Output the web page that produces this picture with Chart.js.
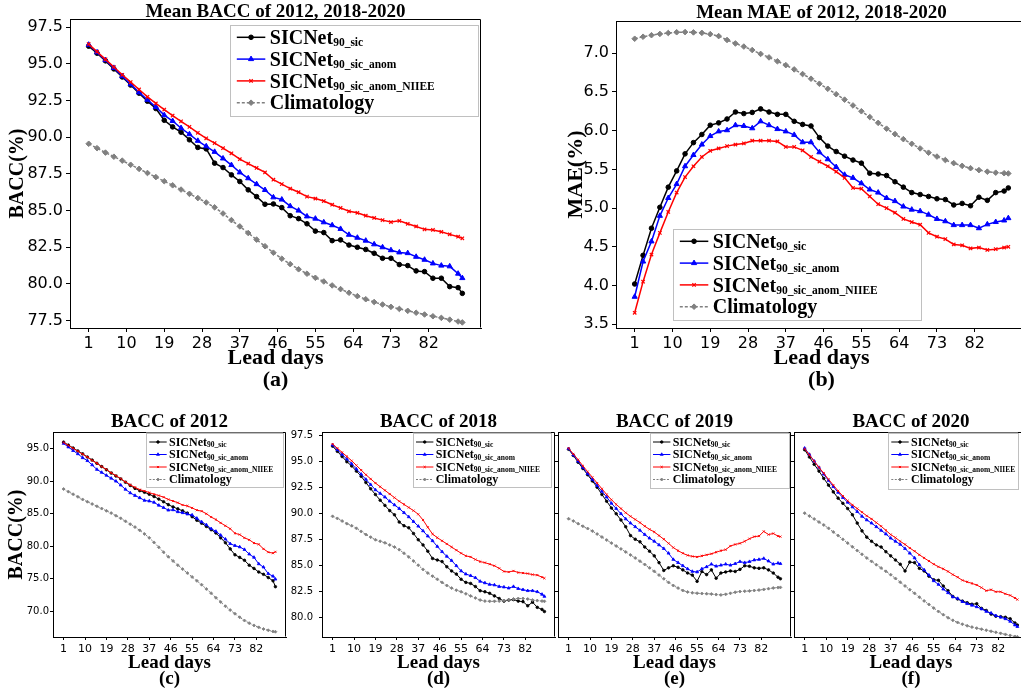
<!DOCTYPE html>
<html><head><meta charset="utf-8">
<script src="https://cdn.jsdelivr.net/npm/chart.js@4.4.1/dist/chart.umd.min.js"></script>
<style>
html,body{margin:0;padding:0;background:#fff;width:1021px;height:696px;overflow:hidden;position:relative}
canvas{position:absolute;display:block}
</style></head><body>
<canvas id="ca"></canvas><canvas id="cb"></canvas><canvas id="cc"></canvas>
<canvas id="cd"></canvas><canvas id="ce"></canvas><canvas id="cf"></canvas>
<script>
// ---------------- data ----------------
const days=[1,3,5,7,9,11,13,15,17,19,21,23,25,27,29,31,33,35,37,39,41,43,45,47,49,51,53,55,57,59,61,63,65,67,69,71,73,75,77,79,81,83,85,87,89,90];
const xTickLabels=[1,10,19,28,37,46,55,64,73,82];
const seriesNames=['SICNet','SICNet','SICNet','Climatology'];
const seriesSubs=['90_sic','90_sic_anom','90_sic_anom_NIIEE',''];

// (a) Mean BACC
const a_sic=[96.2,95.72,95.2,94.65,94.1,93.55,93.0,92.45,91.95,91.15,90.7,90.34,89.82,89.3,89.2,88.23,87.93,87.43,86.98,86.41,85.95,85.43,85.45,85.2,84.65,84.45,84.1,83.6,83.5,82.95,83.0,82.65,82.5,82.35,82.09,81.75,81.75,81.32,81.25,80.89,80.84,80.39,80.39,79.82,79.75,79.36];
const a_anom=[96.3,95.78,95.25,94.72,94.15,93.6,93.05,92.55,92.05,91.5,91.1,90.62,90.2,89.75,89.38,89.0,88.55,88.1,87.6,87.2,86.8,86.4,85.9,85.75,85.3,85.0,84.6,84.45,84.2,84.0,83.75,83.35,83.15,82.95,82.7,82.5,82.3,82.15,82.1,81.85,81.65,81.4,81.25,81.2,80.7,80.4];
const a_niiee=[96.34,95.82,95.3,94.78,94.25,93.75,93.25,92.75,92.3,91.88,91.47,91.08,90.7,90.3,89.92,89.6,89.25,88.9,88.5,88.2,87.9,87.6,87.1,86.8,86.5,86.25,85.95,85.82,85.65,85.4,85.18,84.95,84.85,84.65,84.5,84.35,84.22,84.3,84.1,83.92,83.72,83.68,83.55,83.38,83.22,83.11];
const a_clim=[89.55,89.25,88.95,88.67,88.4,88.12,87.84,87.56,87.28,87.0,86.72,86.43,86.14,85.85,85.55,85.22,84.8,84.35,83.92,83.47,83.02,82.57,82.13,81.72,81.35,81.0,80.7,80.42,80.17,79.9,79.65,79.4,79.17,78.96,78.77,78.6,78.44,78.3,78.17,78.04,77.92,77.8,77.69,77.57,77.44,77.38];

// (b) Mean MAE
const b_sic=[4.02,4.39,4.74,5.01,5.27,5.48,5.70,5.845,5.95,6.07,6.10,6.15,6.24,6.22,6.235,6.28,6.24,6.21,6.21,6.12,6.08,6.06,5.91,5.80,5.73,5.67,5.62,5.58,5.45,5.44,5.42,5.34,5.27,5.20,5.175,5.15,5.12,5.11,5.04,5.06,5.03,5.14,5.10,5.20,5.22,5.26];
const b_anom=[3.855,4.31,4.57,4.90,5.13,5.31,5.54,5.685,5.82,5.93,5.99,6.005,6.07,6.06,6.03,6.12,6.07,6.02,5.99,5.945,5.85,5.85,5.72,5.63,5.53,5.43,5.39,5.32,5.24,5.20,5.13,5.09,5.02,4.98,4.96,4.915,4.86,4.83,4.78,4.78,4.78,4.74,4.79,4.82,4.84,4.87];
const b_niiee=[3.648,4.05,4.40,4.68,4.95,5.20,5.40,5.54,5.66,5.74,5.77,5.80,5.82,5.835,5.87,5.87,5.87,5.86,5.79,5.79,5.745,5.66,5.60,5.54,5.47,5.39,5.26,5.25,5.15,5.05,5.0,4.94,4.86,4.82,4.785,4.68,4.63,4.60,4.53,4.52,4.48,4.49,4.46,4.47,4.49,4.50];
const b_clim=[7.186,7.212,7.232,7.248,7.26,7.27,7.272,7.268,7.262,7.245,7.22,7.17,7.125,7.085,7.04,6.99,6.945,6.895,6.845,6.79,6.73,6.67,6.605,6.54,6.47,6.4,6.325,6.25,6.175,6.1,6.025,5.955,5.89,5.83,5.77,5.715,5.665,5.62,5.58,5.545,5.515,5.49,5.47,5.457,5.45,5.447];

// (c) BACC 2012
const c_sic=[96.0,95.55,95.1,94.65,94.2,93.72,93.25,92.75,92.25,91.75,91.25,90.8,90.35,89.85,89.35,88.9,88.55,88.3,88.0,87.65,87.25,86.85,86.4,86.05,85.75,85.45,85.1,84.55,84.0,83.55,83.05,82.55,82.05,81.3,80.55,79.6,78.7,78.3,77.85,77.1,76.6,76.05,75.7,75.2,74.7,73.8];
const c_anom=[95.8,95.25,94.7,94.2,93.6,93.15,92.5,91.8,91.35,90.9,90.45,90.0,89.4,88.75,88.2,87.8,87.45,87.05,86.95,86.75,86.3,85.95,85.55,85.6,85.3,85.15,84.95,84.8,84.3,83.75,83.3,82.7,82.3,81.7,81.1,80.4,80.1,79.9,79.5,78.8,78.3,77.3,76.8,75.8,75.4,74.95];
const c_niiee=[95.95,95.5,95.05,94.6,94.15,93.7,93.2,92.75,92.25,91.8,91.3,90.85,90.4,89.9,89.45,89.05,88.7,88.5,88.25,88.0,87.8,87.55,87.2,86.95,86.7,86.35,86.2,85.9,85.55,85.4,85.0,84.5,84.1,83.6,83.15,82.7,82.0,81.8,81.3,81.0,80.5,80.3,79.6,79.1,78.95,79.15];
const c_clim=[88.8,88.4,88.0,87.6,87.2,86.85,86.5,86.15,85.8,85.45,85.1,84.7,84.3,83.85,83.4,82.95,82.45,81.9,81.3,80.6,79.85,79.1,78.4,77.75,77.1,76.5,75.9,75.3,74.7,74.1,73.45,72.8,72.1,71.45,70.8,70.2,69.65,69.1,68.6,68.2,67.85,67.55,67.3,67.1,66.92,66.88];

// (d) BACC 2018
const d_sic=[96.5,96.0,95.5,95.0,94.6,94.1,93.6,93.0,92.4,91.85,91.3,90.8,90.3,89.9,89.2,88.85,88.65,88.1,87.5,87.0,86.4,85.7,85.55,85.4,84.9,84.5,84.2,83.7,83.4,83.3,83.0,82.6,82.5,82.35,82.1,81.85,81.6,81.7,81.75,81.6,81.55,81.15,81.5,81.0,80.8,80.6];
const d_anom=[96.6,96.15,95.7,95.25,94.8,94.3,93.8,93.3,92.8,92.3,91.95,91.6,91.2,90.85,90.5,90.1,89.7,89.25,88.8,88.35,87.85,87.4,86.85,86.35,85.9,85.5,85.0,84.5,84.2,84.05,83.85,83.5,83.35,83.2,83.15,83.0,82.95,82.85,83.0,82.8,82.7,82.6,82.6,82.5,82.25,82.05];
const d_niiee=[96.7,96.3,95.9,95.5,95.1,94.65,94.2,93.75,93.35,92.95,92.6,92.25,91.9,91.55,91.2,90.9,90.6,90.3,89.95,89.4,88.7,88.05,87.7,87.4,87.1,86.8,86.5,86.2,85.95,85.85,85.6,85.4,85.3,85.15,85.0,84.75,84.45,84.4,84.5,84.35,84.3,84.25,84.15,84.1,83.9,83.8];
const d_clim=[89.75,89.55,89.3,89.05,88.85,88.6,88.3,88.0,87.75,87.5,87.35,87.2,87.0,86.8,86.55,86.2,85.85,85.45,85.05,84.65,84.3,84.0,83.7,83.4,83.1,82.85,82.65,82.5,82.3,82.1,81.9,81.7,81.6,81.58,81.58,81.6,81.65,81.72,81.8,81.85,81.85,81.8,81.7,81.65,81.6,81.58];

// (e) BACC 2019
const e_sic=[96.2,95.6,94.95,94.35,93.75,93.15,92.55,91.85,91.2,90.55,90.0,89.4,88.75,87.9,87.55,87.3,86.8,86.4,85.95,85.3,84.55,84.8,85.0,84.85,84.6,84.3,84.1,83.5,84.45,84.15,84.6,83.8,84.3,84.4,84.5,84.45,84.65,85.0,84.95,84.8,84.75,84.8,84.6,84.3,83.9,83.75];
const e_anom=[96.25,95.65,95.05,94.45,93.85,93.3,92.7,92.15,91.6,91.0,90.5,90.0,89.5,89.1,88.75,88.4,88.0,87.65,87.35,87.0,86.65,86.2,85.6,85.3,85.0,84.7,84.45,84.4,84.7,84.9,85.15,84.95,85.05,85.15,85.05,85.2,85.4,85.3,85.4,85.55,85.6,85.7,85.45,85.15,85.25,85.2];
const e_niiee=[96.3,95.75,95.2,94.6,94.05,93.5,92.95,92.4,91.85,91.35,90.9,90.5,90.1,89.75,89.45,89.15,88.8,88.5,88.25,87.9,87.55,87.15,86.75,86.45,86.2,86.0,85.9,85.85,85.95,86.05,86.15,86.3,86.45,86.55,86.9,87.05,87.15,87.35,87.6,87.8,87.85,88.3,88.0,88.1,87.85,87.8];
const e_clim=[89.52,89.3,89.05,88.8,88.58,88.33,88.05,87.76,87.47,87.18,86.9,86.62,86.33,86.04,85.75,85.44,85.12,84.8,84.46,84.1,83.75,83.4,83.1,82.85,82.62,82.48,82.4,82.36,82.33,82.31,82.28,82.23,82.2,82.25,82.35,82.45,82.52,82.55,82.58,82.62,82.66,82.72,82.8,82.86,82.9,82.92];

// (f) BACC 2020
const f_sic=[96.15,95.45,94.75,94.1,93.4,92.75,92.1,91.5,91.0,90.5,89.9,89.1,88.35,87.75,87.35,87.0,86.8,86.35,85.95,85.55,85.15,84.5,85.35,85.3,84.75,84.5,84.0,83.65,83.6,83.05,82.6,82.05,81.8,81.6,81.45,81.3,81.35,80.9,80.7,80.35,80.15,80.1,80.05,79.9,79.5,79.3];
const f_anom=[96.3,95.7,95.05,94.45,93.8,93.2,92.6,92.05,91.55,91.1,90.65,90.2,89.75,89.4,89.1,88.75,88.4,88.05,87.65,87.35,87.05,86.65,86.2,85.75,85.1,84.6,84.1,83.55,83.2,82.75,82.4,82.0,81.85,81.55,81.35,81.2,81.05,80.85,80.6,80.45,80.2,80.05,79.9,79.65,79.3,79.15];
const f_niiee=[96.25,95.65,95.05,94.45,93.9,93.3,92.75,92.2,91.7,91.25,90.85,90.5,90.15,89.8,89.5,89.15,88.8,88.4,88.0,87.7,87.35,87.05,86.7,86.4,86.05,85.75,85.45,85.15,84.9,84.7,84.45,84.15,83.9,83.6,83.45,83.3,83.15,82.9,82.6,82.7,82.5,82.5,82.3,82.15,81.9,81.75];
const f_clim=[90.06,89.78,89.5,89.2,88.92,88.6,88.25,87.9,87.54,87.18,86.82,86.46,86.1,85.75,85.42,85.1,84.78,84.46,84.14,83.78,83.42,83.06,82.7,82.35,81.98,81.62,81.28,80.93,80.6,80.3,80.0,79.75,79.55,79.38,79.23,79.1,79.0,78.9,78.8,78.7,78.6,78.5,78.4,78.3,78.2,78.17];

const yTicksA=[77.5,80.0,82.5,85.0,87.5,90.0,92.5,95.0,97.5];
const yTicksB=[3.5,4.0,4.5,5.0,5.5,6.0,6.5,7.0];
const yTicksC=[70.0,75.0,80.0,85.0,90.0,95.0];
const yTicksDEF=[80.0,82.5,85.0,87.5,90.0,92.5,95.0,97.5];

// ---------------- styling ----------------
const SERIF='"Liberation Serif","Times New Roman",serif';
const SANS='"DejaVu Sans",sans-serif';
const colors=['#000000','#0000ff','#ff0000','#808080'];
const pstyles=['circle','triangle','crossRot','rectRot'];

const BIG={lw:1.5,rad:[2.3,3.0,2.4,2.8],pbw:[1,1,1.2,1],dash:[3,2],tick:4,xfs:16,yfs:16,xpad:2,ypad:3,
  tfs:19,xlfs:22,ylfs:20,lfs:20,lss:11.5,lsx:6.5,lsl:28.5,ltx:39.5,lr0:12,ldy:21.8};
const SMALL={lw:1,rad:[1.3,1.7,1.5,1.5],pbw:[0.8,0.8,0.9,0.8],dash:[2,1.5],tick:3,xfs:11,yfs:10,xpad:3,ypad:1,
  tfs:19,xlfs:19,ylfs:20,lfs:12,lss:7.5,lsx:3.3,lsl:17.4,ltx:23,lr0:9.5,ldy:12.5};

const deco={
  id:'deco',
  afterDraw(chart,args,o){
    const ctx=chart.ctx,a=chart.chartArea,S=o.S;
    ctx.save();
    ctx.setLineDash([]);
    ctx.strokeStyle='#000';ctx.lineWidth=1;
    const L=Math.round(a.left)+0.5,T=Math.round(a.top)+0.5,R=Math.round(a.right)-0.5,B=Math.round(a.bottom)-0.5;
    ctx.beginPath();ctx.moveTo(L,T);ctx.lineTo(R,T);ctx.lineTo(R,B);ctx.stroke();
    ctx.fillStyle='#000';
    const cx=(a.left+a.right)/2;
    ctx.textAlign='center';ctx.textBaseline='alphabetic';
    ctx.font='bold '+S.tfs+'px '+SERIF;
    ctx.fillText(o.title,cx,a.top-o.tGap);
    ctx.font='bold '+S.xlfs+'px '+SERIF;
    ctx.fillText('Lead days',cx,a.bottom+o.xl1);
    ctx.fillText(o.tag,cx,a.bottom+o.xl2);
    if(o.ylabel){
      ctx.save();
      ctx.translate(a.left-o.ylOff,(a.top+a.bottom)/2);
      ctx.rotate(-Math.PI/2);
      ctx.font='bold '+(o.ylfs||S.ylfs)+'px '+SERIF;
      ctx.textBaseline='middle';
      ctx.fillText(o.ylabel,0,0);
      ctx.restore();
    }
    // legend
    const lg=o.lg;
    const bx=a.left+lg.x,by=a.top+lg.y;
    ctx.fillStyle='rgba(255,255,255,0.85)';
    ctx.fillRect(bx,by,lg.w,lg.h);
    ctx.strokeStyle='#c0c0c0';ctx.lineWidth=1;
    ctx.strokeRect(Math.round(bx)+0.5,Math.round(by)+0.5,Math.round(lg.w),Math.round(lg.h));
    chart.data.datasets.forEach((ds,i)=>{
      const y=by+S.lr0+i*S.ldy;
      const x0=bx+S.lsx,x1=x0+S.lsl;
      ctx.strokeStyle=ds.borderColor;ctx.lineWidth=ds.borderWidth;
      ctx.setLineDash(ds.borderDash||[]);
      ctx.beginPath();ctx.moveTo(x0,y);ctx.lineTo(x1,y);ctx.stroke();
      ctx.setLineDash([]);
      ctx.fillStyle=ds.borderColor;ctx.strokeStyle=ds.borderColor;ctx.lineWidth=ds.pointBorderWidth;
      Chart.helpers.drawPoint(ctx,{pointStyle:ds.pointStyle,radius:ds.pointRadius,borderWidth:ds.pointBorderWidth,rotation:0},(x0+x1)/2,y);
      ctx.fillStyle='#000';ctx.textAlign='left';ctx.textBaseline='alphabetic';
      const tx=bx+S.ltx,base=y+S.lfs*0.33;
      ctx.font='bold '+S.lfs+'px '+SERIF;
      ctx.fillText(seriesNames[i],tx,base);
      if(seriesSubs[i]){
        const w=ctx.measureText(seriesNames[i]).width;
        ctx.font='bold '+S.lss+'px '+SERIF;
        ctx.fillText(seriesSubs[i],tx+w,base+S.lfs*0.12);
      }
    });
    ctx.restore();
  }
};

function makeChart(p){
  const cv=document.getElementById(p.id);
  const [bxl,bxt,bw,bh]=p.box;
  cv.width=bw;cv.height=bh;
  cv.style.left=bxl+'px';cv.style.top=bxt+'px';cv.style.width=bw+'px';cv.style.height=bh+'px';
  const S=p.S;
  const datasets=p.series.map((vals,i)=>({
    label:seriesNames[i]+seriesSubs[i],
    data:days.map((d,k)=>({x:d,y:vals[k]})),
    borderColor:colors[i],backgroundColor:colors[i],
    borderWidth:S.lw,borderDash:i===3?S.dash:[],
    pointStyle:pstyles[i],pointRadius:S.rad[i],pointBorderWidth:S.pbw[i],
    pointBackgroundColor:colors[i],pointBorderColor:colors[i],
    tension:0,fill:false,order:4-i
  }));
  new Chart(cv,{
    type:'line',
    data:{datasets},
    options:{
      responsive:false,animation:false,devicePixelRatio:1,events:[],
      layout:{padding:{left:0,top:p.pad[1],right:p.pad[2],bottom:0},autoPadding:false},
      plugins:{legend:{display:false},tooltip:{enabled:false},title:{display:false},
        deco:{S,title:p.title,tag:p.tag,tGap:p.tGap,xl1:p.xl1,xl2:p.xl2,ylabel:p.ylabel,ylOff:p.ylOff,ylfs:p.ylfs,lg:p.lg}},
      scales:{
        x:{type:'linear',min:-3.45,max:94.45,
          afterFit(s){s.height=p.pad[3];},
          afterBuildTicks(s){s.ticks=xTickLabels.map(v=>({value:v}));},
          ticks:{color:'#000',font:{family:SANS,size:S.xfs},padding:S.xpad,maxRotation:0,autoSkip:false,callback:v=>String(v)},
          grid:{display:true,drawOnChartArea:false,drawTicks:true,tickLength:S.tick,color:'#000',lineWidth:1},
          border:{display:true,color:'#000',width:1}},
        y:{type:'linear',min:p.ymin,max:p.ymax,
          afterFit(s){s.width=p.pad[0];},
          afterBuildTicks(s){s.ticks=p.yticks.map(v=>({value:v}));},
          ticks:{color:'#000',font:{family:SANS,size:S.yfs},padding:p.ypad!==undefined?p.ypad:S.ypad,autoSkip:false,
            callback:v=>p.ylabels?Number(v).toFixed(1):''},
          grid:{display:true,drawOnChartArea:false,drawTicks:true,tickLength:S.tick,color:'#000',lineWidth:1},
          border:{display:true,color:'#000',width:1}}
      }
    },
    plugins:[deco]
  });
}

const panels=[
  {id:'ca',box:[0,0,500,395],pad:[70,19,19,67],ymin:77.0,ymax:98.05,yticks:yTicksA,ylabels:true,S:BIG,
   series:[a_sic,a_anom,a_niiee,a_clim],title:'Mean BACC of 2012, 2018-2020',tag:'(a)',tGap:2,xl1:36,xl2:58,
   ylabel:'BACC(%)',ylOff:52.5,lg:{x:160.3,y:6.3,w:248.4,h:91.2}},
  {id:'cb',box:[520,0,520,395],pad:[96,21,13,67],ymin:3.452,ymax:7.415,yticks:yTicksB,ylabels:true,S:BIG,
   series:[b_sic,b_anom,b_niiee,b_clim],title:'Mean MAE of 2012, 2018-2020',tag:'(b)',tGap:3,xl1:36,xl2:58,
   ylabel:'MAE(%)',ylOff:39.3,ylfs:22,lg:{x:57.3,y:208.3,w:248.4,h:90.7}},
  {id:'cc',box:[0,400,290,296],pad:[53,32,4,59],ymin:66.07,ymax:97.56,yticks:yTicksC,ylabels:true,S:SMALL,
   series:[c_sic,c_anom,c_niiee,c_clim],title:'BACC of 2012',tag:'(c)',tGap:5.5,xl1:31,xl2:46.5,
   ylabel:'BACC(%)',ylOff:36.3,lg:{x:93,y:0.5,w:137,h:54}},
  {id:'cd',box:[290,400,267,296],pad:[32,32,2,59],ymin:78.15,ymax:97.86,yticks:yTicksDEF,ylabels:true,ypad:6,S:SMALL,
   series:[d_sic,d_anom,d_niiee,d_clim],title:'BACC of 2018',tag:'(d)',tGap:5.5,xl1:31,xl2:46.5,
   lg:{x:90.7,y:0.5,w:138.3,h:54}},
  {id:'ce',box:[553,400,240,296],pad:[5,32,2,59],ymin:78.15,ymax:97.86,yticks:yTicksDEF,ylabels:false,S:SMALL,
   series:[e_sic,e_anom,e_niiee,e_clim],title:'BACC of 2019',tag:'(e)',tGap:5.5,xl1:31,xl2:46.5,
   lg:{x:91.7,y:0.5,w:139,h:55}},
  {id:'cf',box:[789,400,251,296],pad:[5,32,12,59],ymin:78.15,ymax:97.86,yticks:yTicksDEF,ylabels:false,S:SMALL,
   series:[f_sic,f_anom,f_niiee,f_clim],title:'BACC of 2020',tag:'(f)',tGap:5.5,xl1:31,xl2:46.5,
   lg:{x:94,y:0.5,w:130,h:56}}
];
panels.forEach(makeChart);
</script>
</body></html>
